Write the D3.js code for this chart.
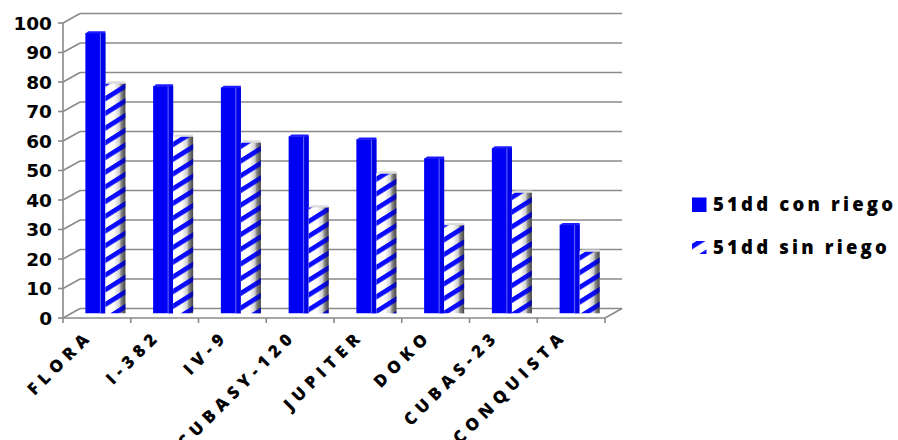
<!DOCTYPE html>
<html>
<head>
<meta charset="utf-8">
<script src="https://cdn.jsdelivr.net/npm/d3@7"></script>
<style>
  html, body { margin: 0; padding: 0; background: #fff; }
  svg { display: block; }
</style>
</head>
<body>
<div id="chart"></div>
<script>
// ---- data ----
const categories = ["FLORA", "I-382", "IV-9", "CUBASY-120", "JUPITER", "DOKO", "CUBAS-23", "CONQUISTA"];
const conRiego = [95, 77, 76.5, 60, 59, 52.5, 56, 30];
const sinRiego = [78, 60, 58, 36, 47.5, 30, 41, 21];
const seriesNames = ["51dd con riego", "51dd sin riego"];
const yTicks = [0, 10, 20, 30, 40, 50, 60, 70, 80, 90, 100];

// ---- layout ----
const W = 898, H = 440;
const depth = { dx: 17, dy: -9.5 };
const gridColor = "#8a8a8a";

const svg = d3.select("#chart").append("svg")
  .attr("width", W).attr("height", H);

const x = d3.scaleBand().domain(categories).range([63, 605]).paddingInner(0).paddingOuter(0);
const y = d3.scaleLinear().domain([0, 100]).range([318, 23]);

const defs = svg.append("defs");

const pat = defs.append("pattern")
  .attr("id", "stripes")
  .attr("patternUnits", "userSpaceOnUse")
  .attr("width", 40).attr("height", 14.7)
  .attr("patternTransform", "skewY(-32)");
pat.append("rect").attr("x", 0).attr("y", 0).attr("width", 40).attr("height", 5.6).attr("fill", "#0a0aff");

const g1 = defs.append("linearGradient").attr("id", "cylGray").attr("x1", "0").attr("x2", "1").attr("y1", "0").attr("y2", "0");
[["0%", "#ffffff"], ["42%", "#ffffff"], ["58%", "#e4e4e4"], ["72%", "#cacaca"], ["76%", "#b4b4b4"], ["88%", "#8e8e8e"], ["100%", "#6e6e6e"]]
  .forEach(([o, c]) => g1.append("stop").attr("offset", o).attr("stop-color", c));

const g2 = defs.append("linearGradient").attr("id", "shadeOver").attr("x1", "0").attr("x2", "1").attr("y1", "0").attr("y2", "0");
[["0%", 0], ["70%", 0], ["78%", 0.18], ["100%", 0.35]]
  .forEach(([o, a]) => g2.append("stop").attr("offset", o).attr("stop-color", "#000").attr("stop-opacity", a));

// ---- walls / grid ----
const grid = svg.append("g").attr("stroke", gridColor).attr("stroke-width", 1.6).attr("fill", "none");
const xL = x.range()[0], xR = x.range()[1];
yTicks.forEach(v => {
  const yf = y(v);
  grid.append("line").attr("x1", xL + depth.dx).attr("x2", xR + depth.dx)
    .attr("y1", yf + depth.dy).attr("y2", yf + depth.dy);
  grid.append("line").attr("x1", xL).attr("y1", yf).attr("x2", xL + depth.dx).attr("y2", yf + depth.dy);
  grid.append("line").attr("x1", xL - 5).attr("x2", xL).attr("y1", yf).attr("y2", yf);
});
grid.append("line").attr("x1", xL).attr("x2", xL).attr("y1", y(0)).attr("y2", y(100));
grid.append("line").attr("x1", xL).attr("x2", xR).attr("y1", y(0)).attr("y2", y(0));
grid.append("line").attr("x1", xR).attr("y1", y(0)).attr("x2", xR + depth.dx).attr("y2", y(0) + depth.dy);
d3.range(categories.length + 1).forEach(i => {
  const xx = xL + i * x.bandwidth();
  grid.append("line").attr("x1", xx).attr("x2", xx).attr("y1", y(0)).attr("y2", y(0) + 5);
});

// ---- bars ----
const bw = 20;
const mid = { dx: depth.dx / 2, dy: depth.dy / 2 };
const bars = svg.append("g");

categories.forEach((c, i) => {
  const cx = x(c) + x.bandwidth() / 2 + mid.dx;
  const base = y(0) + mid.dy;
  const hUnit = (y(0) - y(1));
  {
    const top = base - conRiego[i] * hUnit;
    const bx = cx - bw;
    bars.append("rect").attr("x", bx).attr("y", top).attr("width", bw).attr("height", base - top).attr("fill", "#0000f4");
    bars.append("rect").attr("x", bx + 15).attr("y", top).attr("width", 5).attr("height", base - top).attr("fill", "#0000e6");
    bars.append("line").attr("x1", bx + 15).attr("x2", bx + 15).attr("y1", top).attr("y2", base)
      .attr("stroke", "#6b6bff").attr("stroke-width", 1);
    bars.append("path")
      .attr("d", `M${bx},${top + 0.5} L${bx + 3},${top - 1.8} L${bx + bw},${top - 1.8} L${bx + bw},${top + 0.5} Z`)
      .attr("fill", "#1c1cff");
  }
  {
    const top = base - sinRiego[i] * hUnit;
    const bx = cx;
    bars.append("rect").attr("x", bx).attr("y", top).attr("width", bw).attr("height", base - top).attr("fill", "url(#cylGray)");
    bars.append("rect").attr("x", bx).attr("y", top).attr("width", bw).attr("height", base - top).attr("fill", "url(#stripes)");
    bars.append("rect").attr("x", bx).attr("y", top).attr("width", bw).attr("height", base - top).attr("fill", "url(#shadeOver)");
    bars.append("path")
      .attr("d", `M${bx},${top + 0.5} L${bx + 3},${top - 1.8} L${bx + bw},${top - 1.8} L${bx + bw},${top + 0.5} Z`)
      .attr("fill", "#dcdcdc");
  }
});

// ---- y labels ----
svg.append("g").selectAll("text").data(yTicks).join("text")
  .attr("x", 52).attr("y", d => y(d)).attr("dy", "0.36em")
  .attr("text-anchor", "end")
  .attr("font-family", "DejaVu Sans, Verdana, sans-serif")
  .attr("font-weight", "bold").attr("font-size", 18.5)
  .attr("fill", "#000")
  .text(d => d);

// ---- x labels ----
svg.append("g").selectAll("text").data(categories).join("text")
  .attr("transform", d => `translate(${x(d) + x.bandwidth() / 2 - 3},${337}) rotate(-45)`)
  .attr("text-anchor", "end")
  .attr("font-family", "Open Sans, sans-serif")
  .attr("font-weight", 800).attr("font-size", 17)
  .attr("letter-spacing", 5.5)
  .attr("fill", "#000")
  .text(d => d);

// ---- legend ----
const leg = svg.append("g");
leg.append("rect").attr("x", 692).attr("y", 197.5).attr("width", 14.5).attr("height", 14.5).attr("fill", "#0000f4");
leg.append("rect").attr("x", 692).attr("y", 241).attr("width", 14.5).attr("height", 13).attr("fill", "#fff");
leg.append("rect").attr("x", 692).attr("y", 241).attr("width", 14.5).attr("height", 13).attr("fill", "url(#stripes)");
leg.selectAll("text").data(seriesNames).join("text")
  .attr("x", 713).attr("y", (d, i) => 211 + i * 43)
  .attr("font-family", "Open Sans, sans-serif")
  .attr("font-weight", 800).attr("font-size", 18.5)
  .attr("letter-spacing", 3.2)
  .attr("fill", "#000")
  .text(d => d);
</script>
</body>
</html>
